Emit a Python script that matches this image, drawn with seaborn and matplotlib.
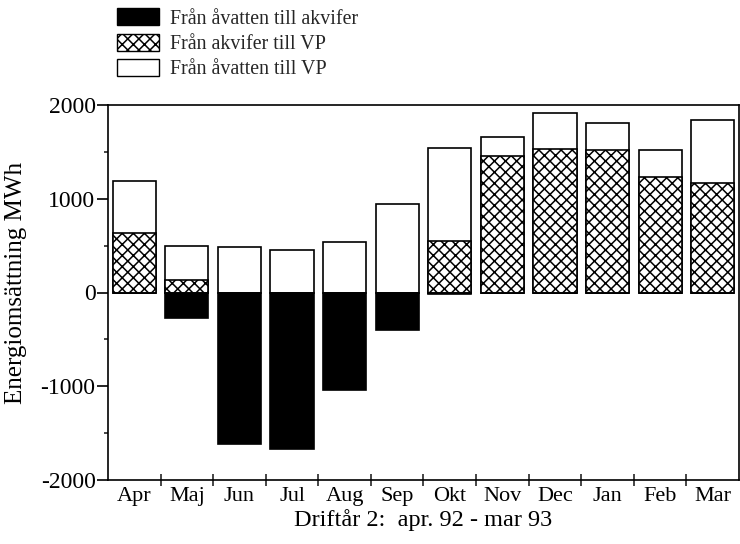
import matplotlib
matplotlib.use("Agg")
import matplotlib.pyplot as plt
from matplotlib.patches import Patch
from matplotlib.ticker import MultipleLocator, FixedLocator
import seaborn as sns
import pandas as pd

# Monthly energy balance, MWh
months = ["Apr", "Maj", "Jun", "Jul", "Aug", "Sep",
          "Okt", "Nov", "Dec", "Jan", "Feb", "Mar"]
akvifer_till_vp = [630, 130, 0, 0, 0, 0, 550, 1460, 1530, 1525, 1230, 1165]
avatten_till_vp = [560, 370, 490, 450, 540, 940, 990, 200, 390, 285, 290, 675]
avatten_till_akvifer = [0, -270, -1620, -1670, -1040, -400, -15, 0, 0, 0, 0, 0]

legend_labels = ["Från åvatten till akvifer",
                 "Från akvifer till VP",
                 "Från åvatten till VP"]
y_ticks = [-2000, -1000, 0, 1000, 2000]

sns.set_style("ticks")
plt.rcParams["font.family"] = ["Liberation Serif", "DejaVu Serif"]
plt.rcParams["hatch.linewidth"] = 1.1
plt.rcParams["axes.linewidth"] = 1.2

df = pd.DataFrame({
    "month": months,
    "vp_total": [a + b for a, b in zip(akvifer_till_vp, avatten_till_vp)],
    "akvifer_vp": akvifer_till_vp,
    "akvifer_in": avatten_till_akvifer,
})

fig = plt.figure(figsize=(7.4, 5.44), dpi=100)
ax = fig.add_axes([108 / 740, 1 - 480 / 544, (739 - 108) / 740, (480 - 105) / 544])

bar_kw = dict(width=0.82, edgecolor="black", linewidth=1.2, ax=ax, order=months)
# stacked column: total heat to VP (white), aquifer share drawn over it (hatched)
sns.barplot(data=df, x="month", y="vp_total", color="white", **bar_kw)
sns.barplot(data=df, x="month", y="akvifer_vp", color="white", hatch="xxx", **bar_kw)
sns.barplot(data=df, x="month", y="akvifer_in", color="black", **bar_kw)
for p in ax.patches:
    p.set_facecolor(p.get_facecolor()[:3] + (1,))

ax.set_xlim(-0.5, 11.5)
ax.set_ylim(-2000, 2000)
ax.yaxis.set_major_locator(FixedLocator(y_ticks))
ax.yaxis.set_minor_locator(MultipleLocator(500))
ax.set_yticklabels([str(v) for v in y_ticks])
ax.xaxis.set_minor_locator(FixedLocator([i + 0.5 for i in range(11)]))

for side in ["top", "right", "left", "bottom"]:
    ax.spines[side].set_visible(True)
    ax.spines[side].set_color("black")

ax.tick_params(axis="y", which="major", direction="out", length=8, width=1.2,
               labelsize=17, pad=1, colors="black")
ax.tick_params(axis="y", which="minor", direction="out", length=3, width=1.2)
ax.tick_params(axis="x", which="major", length=0, labelsize=16, pad=5, colors="black")
ax.tick_params(axis="x", which="minor", direction="inout", length=8, width=1.2)

ax.set_xlabel("Driftår 2:  apr. 92 - mar 93", fontsize=17.5, labelpad=2, color="black")
ax.set_ylabel("Energiomsättning MWh", fontsize=18, color="black")
ax.yaxis.set_label_coords(-0.128, 0.525)

handles = [
    Patch(facecolor="black", edgecolor="black", linewidth=1.0),
    Patch(facecolor="white", edgecolor="black", hatch="xxx", linewidth=1.0),
    Patch(facecolor="white", edgecolor="black", linewidth=1.0),
]
fig.legend(handles, legend_labels, loc="upper left",
           bbox_to_anchor=(117 / 740, 1 - 8 / 544), frameon=False,
           fontsize=14.4, handlelength=2.1, handleheight=0.95,
           handletextpad=0.55, labelspacing=0.25, borderpad=0, borderaxespad=0)

fig.savefig("out.png", dpi=100, facecolor="white")
